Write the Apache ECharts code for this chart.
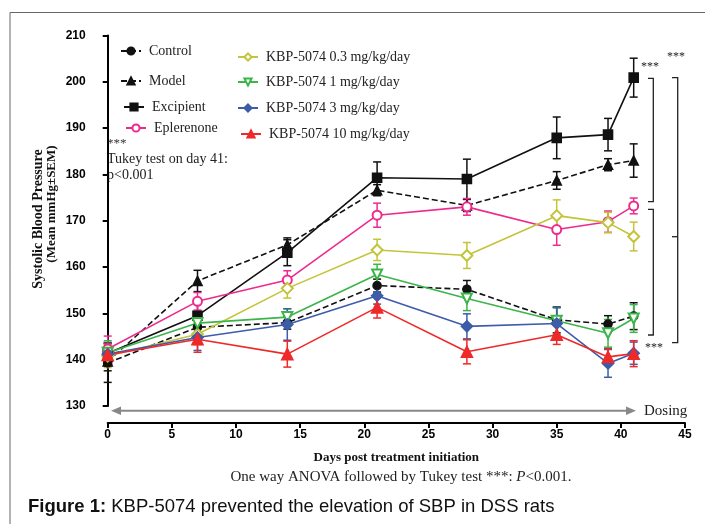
<!DOCTYPE html>
<html>
<head>
<meta charset="utf-8">
<script src="https://cdn.jsdelivr.net/npm/echarts@6/dist/echarts.min.js"></script>
<style>
  html, body { margin: 0; padding: 0; background: #fff; }
  #chart { width: 705px; height: 524px; }
</style>
</head>
<body>
<div id="chart"></div>
<script>
// days of measurement
const days = [0, 7, 14, 21, 28, 35, 39, 41];

// mean SBP (mmHg) and SEM per group
const control = [139.3, 147.0, 148.0, 156.0, 155.2, 148.6, 147.7, 149.4];
const controlSem = [4.2, 1.6, 1.4, 1.4, 1.9, 2.8, 1.8, 2.9];
const model = [139.6, 157.0, 164.8, 176.6, 173.3, 178.7, 182.1, 183.0];
const modelSem = [2.0, 2.3, 1.5, 1.2, 1.3, 1.9, 1.3, 3.6];
const excipient = [141.4, 149.5, 163.1, 179.3, 179.0, 187.9, 188.6, 200.9];
const excipientSem = [2.3, 2.7, 2.8, 3.4, 4.3, 4.5, 3.5, 4.2];
const eplerenone = [142.3, 152.6, 157.2, 171.2, 173.0, 168.1, 169.8, 173.2];
const eplerenoneSem = [2.8, 1.9, 2.0, 2.6, 1.8, 3.4, 2.3, 1.7];
const kbp03 = [140.8, 145.5, 155.4, 163.7, 162.5, 171.1, 169.6, 166.6];
const kbp03Sem = [2.5, 2.3, 2.1, 2.3, 2.8, 3.4, 2.2, 3.1];
const kbp1 = [141.5, 147.9, 149.2, 158.4, 153.2, 148.4, 145.7, 148.9];
const kbp1Sem = [2.6, 2.3, 1.8, 2.2, 2.6, 2.9, 3.0, 3.0];
const kbp3 = [141.2, 144.8, 147.6, 153.8, 147.2, 147.8, 139.2, 141.4];
const kbp3Sem = [2.4, 2.8, 3.4, 1.8, 2.7, 3.4, 3.0, 2.4];
const kbp10 = [141.0, 144.4, 141.2, 151.3, 141.7, 145.4, 140.6, 141.3];
const kbp10Sem = [2.4, 2.8, 2.8, 2.3, 2.6, 2.1, 1.8, 2.8];

const yTicks = [130, 140, 150, 160, 170, 180, 190, 200, 210];
const xTicks = [0, 5, 10, 15, 20, 25, 30, 35, 40, 45];

const groups = [
  { name: 'Control', mean: control, sem: controlSem, color: '#111', symbol: 'circle', dash: [6, 3], size: 8, lx: 120, ly: 52 },
  { name: 'Model', mean: model, sem: modelSem, color: '#111', symbol: 'triangle', dash: [6, 3], size: 9, lx: 120, ly: 82 },
  { name: 'Excipient', mean: excipient, sem: excipientSem, color: '#111', symbol: 'rect', dash: 'solid', size: 9, lx: 123, ly: 108 },
  { name: 'Eplerenone', mean: eplerenone, sem: eplerenoneSem, color: '#ee2a8e', symbol: 'emptyCircle', dash: 'solid', size: 9, lx: 125, ly: 129 },
  { name: 'KBP-5074 0.3 mg/kg/day', mean: kbp03, sem: kbp03Sem, color: '#c4c43a', symbol: 'emptyDiamond', dash: 'solid', size: 11, lx: 237, ly: 58 },
  { name: 'KBP-5074 1 mg/kg/day', mean: kbp1, sem: kbp1Sem, color: '#3bb54a', symbol: 'emptyTriangle', rotate: 180, dash: 'solid', size: 10, lx: 237, ly: 83 },
  { name: 'KBP-5074 3 mg/kg/day', mean: kbp3, sem: kbp3Sem, color: '#3d5ca9', symbol: 'diamond', dash: 'solid', size: 11, lx: 237, ly: 109 },
  { name: 'KBP-5074 10 mg/kg/day', mean: kbp10, sem: kbp10Sem, color: '#ef2929', symbol: 'triangle', dash: 'solid', size: 11, lx: 240, ly: 135 }
];

const chart = echarts.init(document.getElementById('chart'));

const series = [];
groups.forEach(g => {
  // error bars drawn through the axes
  series.push({
    type: 'custom',
    silent: true,
    z: 2,
    data: days.map((d, i) => [d, g.mean[i] - g.sem[i], g.mean[i] + g.sem[i]]),
    renderItem: (params, api) => {
      const lo = api.coord([api.value(0), api.value(1)]);
      const hi = api.coord([api.value(0), api.value(2)]);
      const w = 4;
      const st = { stroke: g.color, lineWidth: 1.5 };
      return {
        type: 'group',
        children: [
          { type: 'line', shape: { x1: lo[0], y1: lo[1], x2: hi[0], y2: hi[1] }, style: st },
          { type: 'line', shape: { x1: lo[0] - w, y1: lo[1], x2: lo[0] + w, y2: lo[1] }, style: st },
          { type: 'line', shape: { x1: hi[0] - w, y1: hi[1], x2: hi[0] + w, y2: hi[1] }, style: st }
        ]
      };
    }
  });
  series.push({
    name: g.name,
    type: 'line',
    z: 3,
    data: days.map((d, i) => [d, g.mean[i]]),
    symbol: g.symbol,
    symbolSize: g.size,
    symbolRotate: g.rotate || 0,
    showAllSymbol: true,
    color: g.color,
    lineStyle: { color: g.color, width: 1.6, type: g.dash },
    itemStyle: { color: g.color, borderColor: g.color, borderWidth: 1.6 },
    emphasis: { disabled: true }
  });
});

// one legend per entry so they sit where the figure puts them
const legends = groups.map(g => ({
  data: [g.name],
  left: g.lx,
  top: g.ly - 8,
  padding: 0,
  itemWidth: 20,
  itemHeight: 9,
  itemGap: 0,
  selectedMode: false,
  textStyle: { fontFamily: 'Liberation Serif', fontSize: 14, color: '#222', padding: [0, 0, 0, 3] }
}));

const serif = 'Liberation Serif';

chart.setOption({
  animation: false,
  backgroundColor: '#fff',
  grid: { left: 107.7, right: 20, top: 35.5, bottom: 118 },
  legend: legends,
  xAxis: {
    type: 'value',
    min: 0, max: 45, interval: 5,
    offset: 17,
    axisLine: { lineStyle: { color: '#000', width: 2 } },
    axisTick: { show: true, inside: false, length: 5, lineStyle: { color: '#000', width: 2 } },
    splitLine: { show: false },
    axisLabel: { color: '#000', fontWeight: 'bold', fontFamily: 'Liberation Sans', fontSize: 12, margin: 6,
      formatter: v => xTicks.includes(v) ? String(v) : '' },
    name: 'Days post treatment initiation',
    nameLocation: 'middle',
    nameGap: 28,
    nameTextStyle: { fontFamily: serif, fontWeight: 'bold', fontSize: 13, color: '#111' }
  },
  yAxis: {
    type: 'value',
    min: 130, max: 210, interval: 10,
    offset: 16,
    axisLine: { show: true, lineStyle: { color: '#000', width: 2 } },
    axisTick: { show: true, inside: false, length: 5, lineStyle: { color: '#000', width: 2 } },
    splitLine: { show: false },
    axisLabel: { color: '#000', fontWeight: 'bold', fontFamily: 'Liberation Sans', fontSize: 12, margin: 6,
      formatter: v => yTicks.includes(v) ? String(v) : '' }
  },
  series: series,
  graphic: [
    // figure frame
    { type: 'rect', shape: { x: 10, y: 12.5, width: 720, height: 540 }, style: { fill: null, stroke: '#666', lineWidth: 1 }, z: -1 },
    // y axis title, two rotated lines
    { type: 'text', x: 38, y: 219, rotation: Math.PI / 2, style: { text: 'Systolic Blood Pressure', font: 'bold 14px "Liberation Serif"', fill: '#111', align: 'center', verticalAlign: 'middle' } },
    { type: 'text', x: 52, y: 204, rotation: Math.PI / 2, style: { text: '(Mean mmHg±SEM)', font: 'bold 13px "Liberation Serif"', fill: '#111', align: 'center', verticalAlign: 'middle' } },
    // note under legend
    { type: 'text', left: 107, top: 137, style: { text: '***', font: '13px "Liberation Serif"', fill: '#333' } },
    { type: 'text', left: 107, top: 152, style: { text: 'Tukey test on day 41:', font: '14px "Liberation Serif"', fill: '#222' } },
    { type: 'text', left: 107, top: 168, style: { text: 'p<0.001', font: '14px "Liberation Serif"', fill: '#222' } },
    // dosing arrow
    { type: 'line', shape: { x1: 118, y1: 410.7, x2: 628, y2: 410.7 }, style: { stroke: '#888', lineWidth: 2 } },
    { type: 'polygon', shape: { points: [[111, 410.7], [121, 406.5], [121, 415]] }, style: { fill: '#888' } },
    { type: 'polygon', shape: { points: [[636, 410.7], [626, 406.5], [626, 415]] }, style: { fill: '#888' } },
    { type: 'text', x: 644, y: 410.7, style: { text: 'Dosing', font: '15px "Liberation Serif"', fill: '#222', verticalAlign: 'middle' } },
    // significance brackets
    { type: 'polyline', shape: { points: [[648, 78.3], [653.3, 78.3], [653.3, 201.7], [648, 201.7]] }, style: { stroke: '#222', lineWidth: 1.3, fill: null } },
    { type: 'polyline', shape: { points: [[648, 209.3], [653.3, 209.3], [653.3, 335], [648, 335]] }, style: { stroke: '#222', lineWidth: 1.3, fill: null } },
    { type: 'polyline', shape: { points: [[672, 77.7], [677.7, 77.7], [677.7, 342.7], [672, 342.7]] }, style: { stroke: '#222', lineWidth: 1.3, fill: null } },
    { type: 'line', shape: { x1: 672, y1: 236.7, x2: 677.7, y2: 236.7 }, style: { stroke: '#222', lineWidth: 1.3 } },
    { type: 'text', x: 641, y: 67, style: { text: '***', font: '12px "Liberation Serif"', fill: '#222', verticalAlign: 'middle' } },
    { type: 'text', x: 667, y: 57, style: { text: '***', font: '12px "Liberation Serif"', fill: '#222', verticalAlign: 'middle' } },
    { type: 'text', x: 645, y: 348, style: { text: '***', font: '12px "Liberation Serif"', fill: '#222', verticalAlign: 'middle' } },
    // captions
    { type: 'text', x: 401, y: 477, style: {
        text: 'One way ANOVA followed by Tukey test ***: {i|P}<0.001.',
        font: '15px "Liberation Serif"', fill: '#222', align: 'center', verticalAlign: 'middle',
        rich: { i: { fontStyle: 'italic', fontSize: 15, fontFamily: 'Liberation Serif', fill: '#222' } } } },
    { type: 'text', x: 28, y: 507, style: {
        text: '{b|Figure 1:} KBP-5074 prevented the elevation of SBP in DSS rats',
        font: '18.5px "Liberation Sans"', fill: '#111', verticalAlign: 'middle',
        rich: { b: { fontWeight: 'bold', fontSize: 18.5, fontFamily: 'Liberation Sans', fill: '#111' } } } }
  ]
});
</script>
</body>
</html>
